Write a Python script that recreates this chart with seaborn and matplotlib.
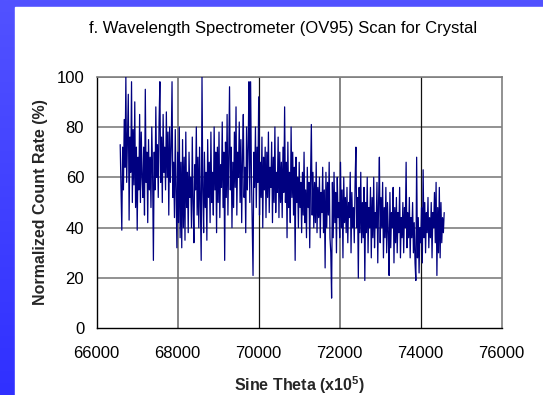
import numpy as np
import pandas as pd
import matplotlib
matplotlib.use("Agg")
import matplotlib.pyplot as plt
from matplotlib.patches import Rectangle
from matplotlib.ticker import MultipleLocator
import seaborn as sns

# Scan positions (sine theta x10^5), sampled every 20 units
sine_theta = np.arange(66580, 74581, 20)

# Normalized count rate (%) at each scan position
count_rate = [
    73, 56, 39, 72, 55, 83, 64, 100, 58, 75, 93, 43, 76, 62, 98, 50, 79, 57, 90, 48,
    72, 39, 68, 55, 85, 50, 78, 60, 52, 72, 45, 95, 58, 70, 42, 75, 55, 68, 48, 80,
    62, 27, 70, 55, 88, 60, 73, 52, 82, 98, 58, 76, 50, 85, 62, 72, 55, 86, 60, 78,
    45, 80, 58, 72, 98, 52, 66, 44, 79, 55, 32, 70, 42, 80, 36, 66, 32, 75, 40, 68,
    35, 78, 48, 62, 38, 70, 52, 60, 40, 76, 50, 34, 65, 55, 80, 45, 68, 40, 72, 50,
    27, 100, 55, 38, 70, 48, 62, 35, 75, 52, 66, 42, 78, 50, 62, 45, 80, 55, 70, 38,
    72, 50, 78, 44, 65, 56, 82, 48, 70, 27, 74, 52, 85, 45, 68, 96, 55, 72, 40, 66,
    48, 78, 56, 88, 45, 70, 60, 82, 50, 75, 42, 68, 85, 52, 64, 38, 80, 55, 72, 98,
    50, 98, 62, 40, 21, 70, 56, 80, 48, 72, 58, 92, 45, 66, 52, 76, 40, 68, 55, 72,
    44, 70, 52, 78, 46, 64, 56, 74, 42, 68, 50, 80, 46, 62, 54, 76, 44, 70, 50, 66,
    44, 72, 54, 88, 50, 66, 36, 74, 48, 62, 42, 80, 52, 70, 45, 64, 27, 68, 50, 60,
    40, 66, 48, 58, 38, 62, 45, 70, 42, 55, 36, 64, 48, 58, 32, 60, 81, 45, 62, 40,
    58, 42, 66, 38, 56, 44, 60, 36, 54, 46, 64, 38, 55, 24, 62, 40, 58, 45, 66, 36,
    30, 12, 58, 36, 62, 42, 54, 30, 60, 44, 50, 36, 66, 40, 55, 28, 60, 42, 52, 38,
    56, 34, 50, 44, 62, 30, 54, 40, 48, 34, 58, 72, 40, 52, 20, 56, 38, 62, 34, 50,
    36, 56, 19, 50, 38, 60, 30, 48, 40, 56, 28, 52, 36, 60, 32, 46, 40, 58, 26, 50,
    68, 34, 52, 40, 58, 28, 48, 36, 56, 30, 50, 38, 21, 54, 32, 46, 40, 56, 26, 48,
    34, 52, 30, 46, 38, 56, 28, 44, 36, 50, 30, 48, 40, 66, 32, 46, 36, 52, 28, 44,
    36, 50, 30, 42, 26, 19, 68, 28, 44, 22, 40, 34, 48, 26, 63, 36, 50, 30, 46, 38,
    52, 32, 44, 36, 50, 28, 46, 40, 54, 34, 58, 21, 48, 30, 56, 28, 50, 34, 44, 38, 46,
]

x_ticks = [66000, 68000, 70000, 72000, 74000, 76000]
y_ticks = [0, 20, 40, 60, 80, 100]

df = pd.DataFrame({"sine_theta": sine_theta, "count_rate": count_rate})

sns.set_style("white")
plt.rcParams["font.family"] = ["Liberation Sans", "DejaVu Sans"]
plt.rcParams["mathtext.fontset"] = "custom"
plt.rcParams["mathtext.rm"] = "Liberation Sans"
plt.rcParams["mathtext.bf"] = "Liberation Sans:bold"

fig = plt.figure(figsize=(5.43, 3.95), dpi=100)
W, H = 543, 395

# Blue gradient slide border
bg = fig.add_axes([0, 0, 1, 1], zorder=-10)
grad = np.linspace(0, 1, 256).reshape(-1, 1)
top_c = np.array([0x52, 0x52, 0xff]) / 255
bot_c = np.array([0x30, 0x30, 0xff]) / 255
img = top_c[None, None, :] * (1 - grad[:, :, None]) + bot_c[None, None, :] * grad[:, :, None]
bg.imshow(img, aspect="auto", extent=[0, 1, 0, 1])
bg.add_patch(Rectangle((15 / W, 0), 1, 1 - 7 / H, color="white", transform=bg.transAxes))
bg.set_xlim(0, 1)
bg.set_ylim(0, 1)
bg.axis("off")

ax = fig.add_axes([96.7 / W, 66.7 / H, 405 / W, 251.6 / H])
ax.set_facecolor("white")

sns.lineplot(data=df, x="sine_theta", y="count_rate", ax=ax, sort=False,
             estimator=None, color="#000080", linewidth=0.9, zorder=3)

ax.set_xlim(66000, 76000)
ax.set_ylim(0, 100)
ax.set_xticks(x_ticks)
ax.set_yticks(y_ticks)
ax.xaxis.set_minor_locator(MultipleLocator(400))
ax.yaxis.set_minor_locator(MultipleLocator(10))

for yv in y_ticks[1:]:
    ax.axhline(yv, color="#7f7f7f", linewidth=1.2, zorder=1)
for xv, c, lw in [(68000, "#6f6f6f", 1.2), (70000, "#111111", 0.9),
                  (72000, "#6f6f6f", 1.2), (74000, "#111111", 0.9)]:
    ax.axvline(xv, color=c, linewidth=lw, zorder=1)

for side in ["top", "right"]:
    ax.spines[side].set_color("#7f7f7f")
    ax.spines[side].set_linewidth(1.2)
for side in ["left", "bottom"]:
    ax.spines[side].set_color("black")
    ax.spines[side].set_linewidth(1.0)

ax.tick_params(axis="both", which="both", direction="in", color="black",
               labelsize=12, labelcolor="black")
ax.tick_params(axis="both", which="major", length=0)
ax.tick_params(axis="both", which="minor", length=4, width=0.9)
ax.tick_params(axis="x", which="major", pad=12.5)
ax.tick_params(axis="y", which="major", pad=9)

ax.set_xlabel("Sine Theta (x10$^{\\mathbf{5}}$)", fontsize=11.5, fontweight="bold")
ax.set_ylabel("Normalized Count Rate (%)", fontsize=11.5, fontweight="bold")
ax.xaxis.set_label_coords(0.5, (H - 385 - 66.7) / 251.6)
ax.xaxis.label.set_va("center")
ax.yaxis.set_label_coords((41 - 96.7) / 405, 0.5)
ax.yaxis.label.set_va("center")

fig.text(283 / W, 1 - 28 / H, "f. Wavelength Spectrometer (OV95) Scan for Crystal",
         ha="center", va="center", fontsize=12, color="black")

fig.savefig("out.png", dpi=100)
